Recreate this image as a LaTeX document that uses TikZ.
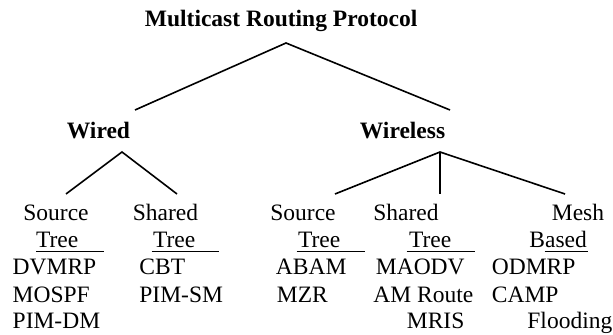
\documentclass[tikz,border=0pt]{standalone}
\usepackage{fontspec}
\setmainfont{Liberation Serif}
\usepackage{tikz}

\begin{document}
\begin{tikzpicture}[
    x=0.5pt, y=-0.5pt,
    every node/.style={font=\fontsize{11.75}{14}\selectfont},
    head/.style={anchor=base west, inner sep=0pt, font=\fontsize{11.75}{14}\selectfont\bfseries},
    item/.style={anchor=base west, inner sep=0pt},
    branch/.style={draw=black, line width=0.8pt},
    uline/.style={draw=black, line width=0.8pt}
]
\useasboundingbox (0,0) rectangle (613,335);

% headings
\node[head] (root) at (144.5, 27) {Multicast Routing Protocol};
\node[head] (wired) at (66.5, 139) {Wired};
\node[head] (wless) at (359.5, 139) {Wireless};

% category row
\node[item] (src1) at (23, 221) {Source};
\node[item] (shr1) at (132.5, 221) {Shared};
\node[item] (src2) at (270, 221) {Source};
\node[item] (shr2) at (373, 221) {Shared};
\node[item] (mesh) at (551.5, 221) {Mesh};

\node[item] (tree1) at (35.6, 247.5) {Tree};
\node[item] (tree2) at (152.6, 247.5) {Tree};
\node[item] (tree3) at (297.6, 247.5) {Tree};
\node[item] (tree4) at (408.6, 247.5) {Tree};
\node[item] (based) at (529, 247.5) {Based};

% protocols
\node[item] (dvmrp) at (12.3, 275) {DVMRP};
\node[item] (mospf) at (12.3, 302) {MOSPF};
\node[item] (pimdm) at (12.3, 328.5) {PIM-DM};
\node[item] (cbt) at (139, 275) {CBT};
\node[item] (pimsm) at (139, 302) {PIM-SM};
\node[item] (abam) at (275.5, 275) {ABAM};
\node[item] (mzr) at (276.5, 302) {MZR};
\node[item] (maodv) at (375.5, 275) {MAODV};
\node[item] (amroute) at (373, 302) {AM Route};
\node[item] (mris) at (406.5, 328.5) {MRIS};
\node[item] (odmrp) at (491.5, 275) {ODMRP};
\node[item] (camp) at (491.5, 302) {CAMP};
\node[item] (flood) at (527, 328.5) {Flooding};

% branch points
\coordinate (rootfork) at (286, 43);
\coordinate (wiredend) at (135, 110);
\coordinate (wlessend) at (450, 110);
\coordinate (wiredfork) at (122, 152);
\coordinate (srcend1) at (66, 194);
\coordinate (shrend1) at (177, 194);
\coordinate (wlessfork) at (440, 152);
\coordinate (srcend2) at (335, 194);
\coordinate (shrend2) at (440, 194);
\coordinate (meshend) at (565, 194);

% tree branches
\draw[branch] (wiredend) -- (rootfork) -- (wlessend);
\draw[branch] (srcend1) -- (wiredfork) -- (shrend1);
\draw[branch] (srcend2) -- (wlessfork) -- (meshend);
\draw[branch] (wlessfork) -- (shrend2);

% underlines
\draw[uline] (36, 251.7) -- (104, 251.7);
\draw[uline] (151.7, 251.7) -- (219, 251.7);
\draw[uline] (296.7, 251.7) -- (365, 251.7);
\draw[uline] (406.7, 251.7) -- (475, 251.7);
\draw[uline] (544.7, 251.7) -- (588, 251.7);
\end{tikzpicture}
\end{document}
